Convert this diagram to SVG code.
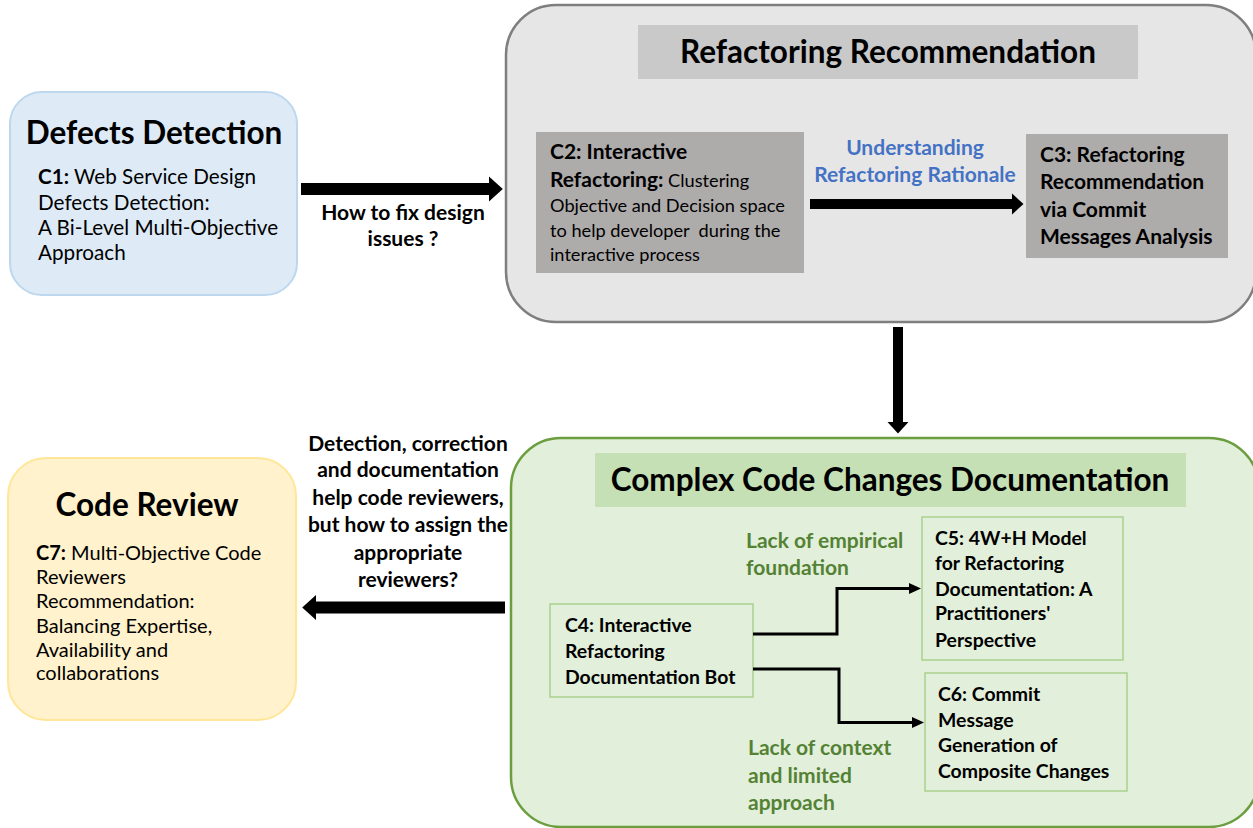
<svg xmlns="http://www.w3.org/2000/svg" width="1253" height="828" viewBox="0 0 1253 828">
<style>
text{font-family:Lato,"Liberation Sans",sans-serif;fill:#000}
.h{font-weight:bold;font-size:31.5px}
.b{font-weight:bold}
.r{font-size:20.7px}
.r2{font-size:20px}
.s{font-size:18.2px}
.m{font-size:21px;font-weight:bold}
.n{font-size:19.4px;font-weight:bold}
.blue{fill:#4472c4}
.grn{fill:#548235}
.thick{stroke:#000;fill:none}
.thin{stroke:#000;stroke-width:3;fill:none}
</style>
<defs>
<marker id="big" markerUnits="strokeWidth" markerWidth="1.15" markerHeight="2.1" viewBox="0 0 11.5 21" refX="0" refY="10.5" orient="auto" overflow="visible">
<path d="M0,0 L11.5,10.5 L0,21 Z" fill="#000"/>
</marker>
<marker id="small" markerUnits="userSpaceOnUse" markerWidth="12" markerHeight="11" viewBox="0 0 12 11" refX="0" refY="5.5" orient="auto" overflow="visible">
<path d="M0,0 L12,5.5 L0,11 Z" fill="#000"/>
</marker>
</defs>
<rect width="1253" height="828" fill="#fff"/>

<g id="defects">
<rect x="10" y="92" width="287" height="203" rx="32" fill="#deebf7" stroke="#bdd7ee" stroke-width="2"/>
<text class="h" x="154" y="144" text-anchor="middle">Defects Detection</text>
<text class="r" x="38" y="184"><tspan class="b">C1:</tspan> Web Service Design</text>
<text class="r" x="38" y="210">Defects Detection:</text>
<text class="r" x="38" y="235">A Bi-Level Multi-Objective</text>
<text class="r" x="38" y="260">Approach</text>
</g>

<g id="refactoring">
<rect x="506" y="5" width="750" height="317" rx="50" fill="#e7e6e6" stroke="#7f7f7f" stroke-width="2.5"/>
<rect x="638" y="25" width="500" height="54" fill="#c9c9c9"/>
<text class="h" x="888" y="63" text-anchor="middle">Refactoring Recommendation</text>
</g>

<g id="c2">
<rect x="536" y="132" width="268" height="141" fill="#aeabab"/>
<text class="m" x="550" y="159">C2: Interactive</text>
<text x="550" y="187"><tspan class="m">Refactoring:</tspan><tspan class="s"> Clustering</tspan></text>
<text class="s" x="550" y="212">Objective and Decision space</text>
<text class="s" x="550" y="237" xml:space="preserve">to help developer  during the</text>
<text class="s" x="550" y="261">interactive process</text>
</g>

<g id="c3">
<rect x="1026" y="134" width="202" height="124" fill="#aeabab"/>
<text class="m" x="1040" y="162">C3: Refactoring</text>
<text class="m" x="1040" y="189">Recommendation</text>
<text class="m" x="1040" y="217">via Commit</text>
<text class="m" x="1040" y="244">Messages Analysis</text>
</g>

<g id="documentation">
<rect x="511" y="438" width="748" height="389" rx="50" fill="#e2efda" stroke="#6b9e3f" stroke-width="2.5"/>
<rect x="595" y="453" width="591" height="54" fill="#c5e0b4"/>
<text class="h" x="890" y="491" text-anchor="middle">Complex Code Changes Documentation</text>
</g>

<g id="c4">
<rect x="550" y="604" width="203" height="93" fill="#e2efda" stroke="#a9d18e" stroke-width="1.5"/>
<text class="n" x="565" y="632">C4: Interactive</text>
<text class="n" x="565" y="658">Refactoring</text>
<text class="n" x="565" y="684">Documentation Bot</text>
</g>

<g id="c5">
<rect x="922" y="517" width="201" height="143" fill="#e2efda" stroke="#a9d18e" stroke-width="1.5"/>
<text class="n" x="935" y="545">C5: 4W+H Model</text>
<text class="n" x="935" y="570">for Refactoring</text>
<text class="n" x="935" y="596">Documentation: A</text>
<text class="n" x="935" y="620">Practitioners'</text>
<text class="n" x="935" y="647">Perspective</text>
</g>

<g id="c6">
<rect x="925" y="673" width="202" height="118" fill="#e2efda" stroke="#a9d18e" stroke-width="1.5"/>
<text class="n" x="938" y="701">C6: Commit</text>
<text class="n" x="938" y="727">Message</text>
<text class="n" x="938" y="752">Generation of</text>
<text class="n" x="938" y="778">Composite Changes</text>
</g>

<g id="codereview">
<rect x="8" y="458" width="288" height="262" rx="38" fill="#fff2cc" stroke="#ffe699" stroke-width="2"/>
<text class="h" x="147" y="516" text-anchor="middle">Code Review</text>
<text class="r2" x="36" y="560"><tspan class="b">C7:</tspan> Multi-Objective Code</text>
<text class="r2" x="36" y="584">Reviewers</text>
<text class="r2" x="36" y="608">Recommendation:</text>
<text class="r2" x="36" y="633">Balancing Expertise,</text>
<text class="r2" x="36" y="657">Availability and</text>
<text class="r2" x="36" y="680">collaborations</text>
</g>

<g id="connectors">
<line class="thick" x1="301" y1="189" x2="489" y2="189" stroke-width="12" marker-end="url(#big)"/>
<line class="thick" x1="810" y1="204" x2="1012" y2="204" stroke-width="10" marker-end="url(#big)"/>
<line class="thick" x1="898" y1="327" x2="898" y2="422" stroke-width="10" marker-end="url(#big)"/>
<line class="thick" x1="505" y1="607.5" x2="316" y2="607.5" stroke-width="12" marker-end="url(#big)"/>
<polyline class="thin" points="753,634 837,634 837,588.5 909,588.5" marker-end="url(#small)"/>
<polyline class="thin" points="753,669 839,669 839,722.5 912,722.5" marker-end="url(#small)"/>
</g>

<g id="labels">
<text class="m" x="403" y="220" text-anchor="middle">How to fix design</text>
<text class="m" x="403" y="246" text-anchor="middle">issues ?</text>
<text class="m blue" x="915" y="155" text-anchor="middle">Understanding</text>
<text class="m blue" x="915" y="182" text-anchor="middle">Refactoring Rationale</text>
<text class="m grn" x="746" y="548">Lack of empirical</text>
<text class="m grn" x="746" y="575">foundation</text>
<text class="m grn" x="748" y="755">Lack of context</text>
<text class="m grn" x="748" y="783">and limited</text>
<text class="m grn" x="748" y="810">approach</text>
<text class="m" x="408" y="451" text-anchor="middle">Detection, correction</text>
<text class="m" x="408" y="477" text-anchor="middle">and documentation</text>
<text class="m" x="408" y="505" text-anchor="middle">help code reviewers,</text>
<text class="m" x="408" y="532" text-anchor="middle">but how to assign the</text>
<text class="m" x="408" y="560" text-anchor="middle">appropriate</text>
<text class="m" x="408" y="587" text-anchor="middle">reviewers?</text>
</g>
</svg>
